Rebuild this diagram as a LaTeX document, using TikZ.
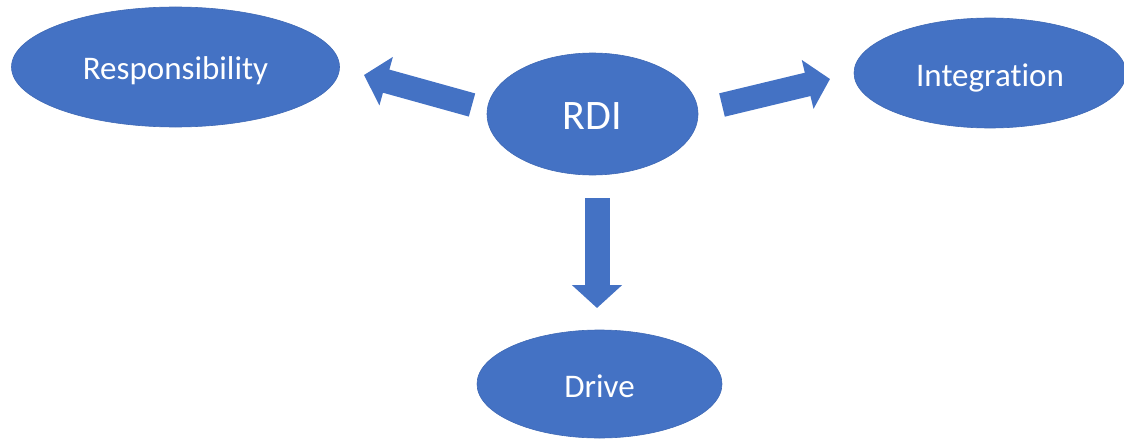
\documentclass[tikz,border=0pt]{standalone}
\usepackage{fontspec}
\setmainfont{Carlito}[Ligatures=NoCommon]
\usetikzlibrary{shapes.geometric,arrows.meta}
\definecolor{offblue}{HTML}{4472C4}
\definecolor{offedge}{HTML}{3F69B5}
\tikzset{
  blob/.style={ellipse, fill=offblue, draw=offedge, line width=0.6pt, inner sep=0pt,
    text=white, font=\fontsize{33}{36}\selectfont, text height=26pt, text depth=0pt},
  blockarrow/.style={draw=offblue, line width=24pt,
    -{Triangle[length=23pt, width=49pt, fill=offblue]}}
}
\begin{document}
\begin{tikzpicture}[x=1pt,y=-1pt]
\useasboundingbox (0,0) rectangle (1124,444);
\node[blob, minimum width=328pt, minimum height=120pt] (resp) at (175.5,67) {Responsibility};
\node[blob, minimum width=211pt, minimum height=122pt, font=\fontsize{42}{46}\selectfont, text height=30pt] (rdi) at (592.5,114) {RDI};
\node[blob, minimum width=272pt, minimum height=110pt] (integ) at (990,73) {Integration};
\node[blob, minimum width=245pt, minimum height=108pt] (drive) at (599.5,384) {Drive};
\coordinate (lt) at (472,105);
\coordinate (lh) at (364,75);
\coordinate (rt) at (722,105);
\coordinate (rh) at (830,79);
\coordinate (dt) at (597,198);
\coordinate (dh) at (597,308);
\draw[blockarrow] (lt) -- (lh);
\draw[blockarrow] (rt) -- (rh);
\draw[blockarrow, line width=25pt] (dt) -- (dh);
\end{tikzpicture}
\end{document}
